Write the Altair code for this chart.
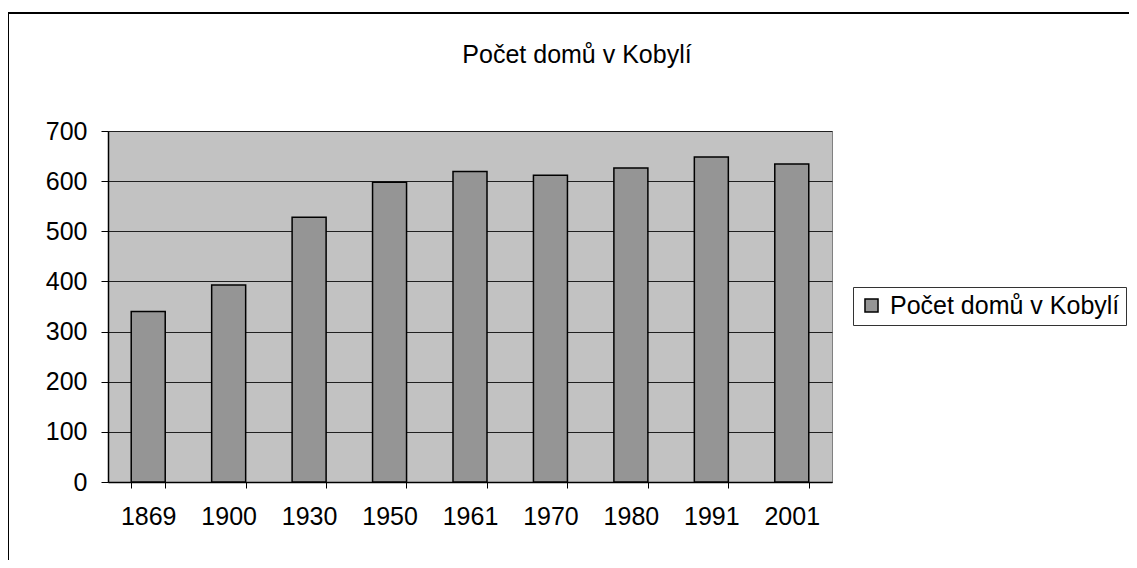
import altair as alt
import pandas as pd

years = ["1869", "1900", "1930", "1950", "1961", "1970", "1980", "1991", "2001"]
houses = [340, 393, 528, 598, 619, 612, 626, 648, 634]
series_name = "Počet domů v Kobylí"
title_text = "Počet domů v Kobylí"

df = pd.DataFrame({"rok": years, "domy": houses, "serie": [series_name] * len(years)})

FONT = "Liberation Sans"
FS = 25

bars = alt.Chart(df).mark_bar(size=34, stroke="black", strokeWidth=1.5).encode(
    x=alt.X("rok:N", sort=years, title=None,
            scale=alt.Scale(paddingInner=0.58, paddingOuter=0.29),
            axis=alt.Axis(labelAngle=0, labelFontSize=FS, labelFont=FONT, labelColor="black",
                          labelPadding=16, tickBand="extent", tickSize=6, tickColor="black",
                          domainColor="black", domainWidth=1.5)),
    y=alt.Y("domy:Q", title=None,
            scale=alt.Scale(domain=[0, 700], nice=False),
            axis=alt.Axis(values=[0, 100, 200, 300, 400, 500, 600, 700], labelFontSize=FS,
                          labelFont=FONT, labelColor="black", labelPadding=14, tickSize=7,
                          tickColor="black", domainColor="black", domainWidth=1.5,
                          grid=True, gridColor="#202020", gridWidth=1)),
    color=alt.Color("serie:N", scale=alt.Scale(range=["#959595"]),
                    legend=alt.Legend(title=None, orient="none", legendX=745, legendY=156,
                                      symbolType="square", symbolSize=170,
                                      symbolStrokeColor="black", symbolStrokeWidth=1.5,
                                      labelFontSize=FS, labelFont=FONT, labelColor="black",
                                      strokeColor="#333333", fillColor="white",
                                      padding=6, labelLimit=400, labelOffset=6)),
)

frame = alt.Chart(pd.DataFrame({"a": [0]})).mark_rect(
    fill=None, stroke="black", strokeWidth=2
).encode(
    x=alt.value(-100), x2=alt.value(1027), y=alt.value(-118), y2=alt.value(480)
)

title = alt.Chart(pd.DataFrame({"t": [title_text]})).mark_text(
    fontSize=FS, font=FONT, color="black"
).encode(
    text="t:N", x=alt.value(469), y=alt.value(-76)
)

chart = alt.layer(bars, frame, title).properties(
    width=724, height=351,
    autosize=alt.AutoSizeParams(type="none"),
    padding={"left": 100, "top": 123, "right": 297, "bottom": 78},
).configure_view(
    fill="#c2c2c2", stroke="#808080"
)

chart.save("out.html", embed_options={"renderer": "svg", "actions": False})
